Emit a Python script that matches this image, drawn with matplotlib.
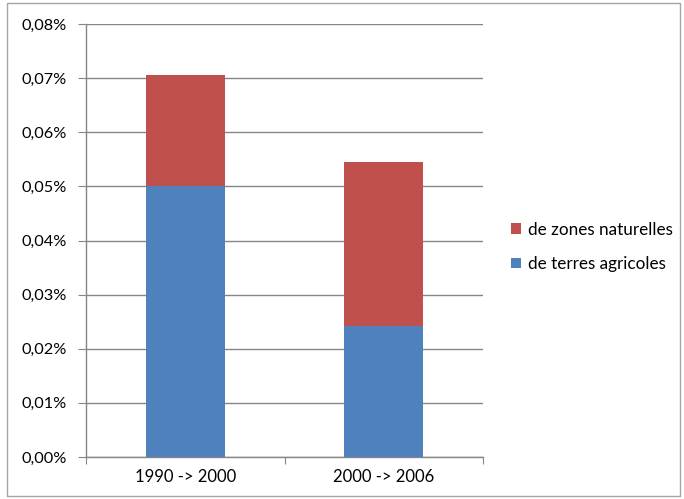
import matplotlib.pyplot as plt
from matplotlib.patches import Rectangle
from matplotlib.ticker import FuncFormatter, MultipleLocator

plt.rcParams['font.family'] = ['Lato', 'DejaVu Sans']

# données (en %)
periodes = ['1990 -> 2000', '2000 -> 2006']
terres_agricoles = [0.0500, 0.0242]
zones_naturelles = [0.0205, 0.0303]

W, H = 684, 499
fig = plt.figure(figsize=(W / 100, H / 100), dpi=100)
# cadre gris autour du graphique
fig.patches.append(Rectangle((7 / W, 3 / H), 673 / W, 493 / H, transform=fig.transFigure,
                             fill=False, edgecolor='#a6a6a6', linewidth=1))

ax = fig.add_axes([86 / W, 1 - 457 / H, 397 / W, 433 / H])
x = range(len(periodes))
b1 = ax.bar(x, terres_agricoles, width=0.4, color='#4f81bd', label='de terres agricoles', zorder=3)
b2 = ax.bar(x, zones_naturelles, width=0.4, bottom=terres_agricoles, color='#c0504d',
            label='de zones naturelles', zorder=3)

ax.set_xlim(-0.5, 1.5)
ax.set_ylim(0, 0.08)
ax.yaxis.set_major_locator(MultipleLocator(0.01))
ax.yaxis.set_major_formatter(FuncFormatter(lambda v, p: ('%.2f%%' % v).replace('.', ',')))
ax.grid(axis='y', color='#868686', linewidth=1, zorder=0)

ax.set_xticks([-0.5, 0.5, 1.5])
ax.set_xticklabels([])
ax.set_xticks([0, 1], minor=True)
ax.set_xticklabels(periodes, minor=True)
ax.tick_params(axis='x', which='major', direction='out', length=5, color='#868686')
ax.tick_params(axis='x', which='minor', length=0, pad=9, labelsize=12)
ax.tick_params(axis='y', direction='out', length=6, color='#868686', labelsize=11.7, pad=8)

for s in ['top', 'right']:
    ax.spines[s].set_visible(False)
for s in ['left', 'bottom']:
    ax.spines[s].set_color('#868686')
    ax.spines[s].set_linewidth(1)

ax.legend(handles=[b2, b1], loc='center left', bbox_to_anchor=(496 / W, 1 - 247 / H),
          bbox_transform=fig.transFigure, frameon=False, fontsize=12.3,
          handlelength=0.55, handleheight=0.55, handletextpad=0.4, labelspacing=1.1)

fig.savefig('out.png', dpi=100)
